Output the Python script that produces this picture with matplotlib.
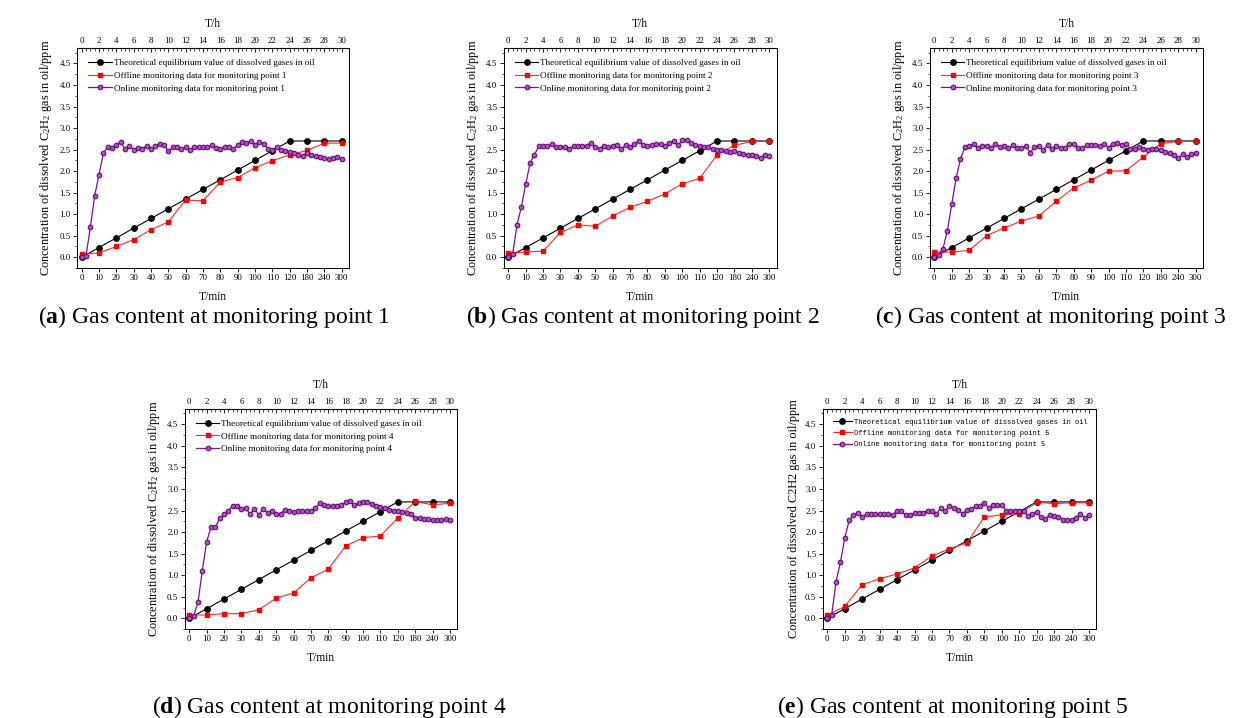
import numpy as np
import matplotlib.pyplot as plt

plt.rcParams['font.family'] = ['Liberation Serif', 'DejaVu Serif']
plt.rcParams['mathtext.fontset'] = 'custom'
plt.rcParams['mathtext.rm'] = 'Liberation Serif'
plt.rcParams['mathtext.it'] = 'Liberation Serif:italic'
plt.rcParams['mathtext.bf'] = 'Liberation Serif:bold'

# bottom axis (T/min) is evenly spaced, one label per top axis tick (T/h)
min_labels = [0, 10, 20, 30, 40, 50, 60, 70, 80, 90, 100, 110, 120, 180, 240, 300]
hour_ticks = [0, 2, 4, 6, 8, 10, 12, 14, 16, 18, 20, 22, 24, 26, 28, 30]

# theoretical equilibrium value (same for every monitoring point)
theory = [0.0, 0.225, 0.45, 0.675, 0.9, 1.125, 1.35, 1.575, 1.8, 2.025, 2.25,
          2.475, 2.7, 2.7, 2.7, 2.7]

# offline monitoring data, one value per bottom tick
offline_1 = [0.07, 0.10, 0.25, 0.41, 0.64, 0.82, 1.33, 1.31, 1.75, 1.85, 2.08, 2.24, 2.38, 2.48, 2.65, 2.65]
offline_2 = [0.09, 0.12, 0.14, 0.58, 0.75, 0.72, 0.96, 1.16, 1.30, 1.47, 1.71, 1.83, 2.38, 2.60, 2.69, 2.69]
offline_3 = [0.12, 0.12, 0.16, 0.50, 0.68, 0.84, 0.96, 1.30, 1.61, 1.79, 2.00, 2.01, 2.33, 2.64, 2.69, 2.69]
offline_4 = [0.08, 0.08, 0.11, 0.11, 0.20, 0.47, 0.59, 0.94, 1.14, 1.68, 1.87, 1.91, 2.33, 2.71, 2.63, 2.67]
offline_5 = [0.07, 0.28, 0.78, 0.92, 1.03, 1.17, 1.45, 1.61, 1.75, 2.35, 2.40, 2.42, 2.69, 2.66, 2.68, 2.68]

# online monitoring data, sampled every half hour
online_hours = np.arange(0, 30.5, 0.5)
online_1 = [0.00, 0.03, 0.70, 1.43, 1.92, 2.41, 2.57, 2.54, 2.61, 2.68,
            2.51, 2.59, 2.50, 2.54, 2.51, 2.59, 2.51, 2.59, 2.64, 2.60,
            2.47, 2.55, 2.57, 2.51, 2.55, 2.50, 2.55, 2.56, 2.57, 2.55,
            2.60, 2.54, 2.51, 2.55, 2.57, 2.51, 2.61, 2.68, 2.65, 2.69,
            2.61, 2.68, 2.64, 2.52, 2.48, 2.55, 2.50, 2.47, 2.44, 2.41,
            2.38, 2.36, 2.42, 2.38, 2.34, 2.33, 2.31, 2.28, 2.31, 2.32, 2.29]
online_2 = [0.00, 0.07, 0.75, 1.17, 1.69, 2.19, 2.38, 2.58, 2.58, 2.58,
            2.62, 2.56, 2.55, 2.55, 2.52, 2.58, 2.58, 2.58, 2.58, 2.66,
            2.55, 2.52, 2.58, 2.56, 2.58, 2.61, 2.52, 2.60, 2.56, 2.62,
            2.71, 2.60, 2.58, 2.60, 2.62, 2.64, 2.58, 2.66, 2.69, 2.60,
            2.72, 2.72, 2.66, 2.61, 2.58, 2.57, 2.55, 2.51, 2.49, 2.48,
            2.47, 2.45, 2.46, 2.43, 2.40, 2.38, 2.37, 2.35, 2.31, 2.38, 2.35]
online_3 = [0.01, 0.06, 0.20, 0.62, 1.23, 1.83, 2.28, 2.55, 2.58, 2.64,
            2.54, 2.59, 2.58, 2.54, 2.62, 2.56, 2.58, 2.53, 2.60, 2.54,
            2.53, 2.59, 2.43, 2.56, 2.59, 2.49, 2.60, 2.51, 2.58, 2.53,
            2.54, 2.64, 2.64, 2.53, 2.54, 2.60, 2.60, 2.60, 2.59, 2.64,
            2.54, 2.64, 2.66, 2.60, 2.62, 2.51, 2.51, 2.56, 2.51, 2.50,
            2.51, 2.51, 2.48, 2.45, 2.43, 2.37, 2.30, 2.39, 2.32, 2.39, 2.41]
online_4 = [0.00, 0.06, 0.37, 1.11, 1.78, 2.11, 2.11, 2.32, 2.42, 2.50,
            2.61, 2.61, 2.54, 2.55, 2.42, 2.54, 2.40, 2.54, 2.45, 2.50,
            2.42, 2.42, 2.52, 2.50, 2.46, 2.48, 2.50, 2.50, 2.50, 2.55,
            2.67, 2.63, 2.61, 2.61, 2.61, 2.63, 2.69, 2.72, 2.62, 2.67,
            2.70, 2.70, 2.66, 2.61, 2.58, 2.55, 2.52, 2.50, 2.48, 2.46,
            2.44, 2.42, 2.32, 2.33, 2.31, 2.30, 2.29, 2.29, 2.28, 2.30, 2.29]
online_5 = [0.02, 0.08, 0.85, 1.30, 1.86, 2.27, 2.39, 2.45, 2.35, 2.42,
            2.42, 2.42, 2.42, 2.42, 2.42, 2.40, 2.48, 2.48, 2.40, 2.40,
            2.44, 2.44, 2.44, 2.50, 2.48, 2.42, 2.55, 2.48, 2.61, 2.55,
            2.52, 2.42, 2.52, 2.53, 2.61, 2.61, 2.68, 2.55, 2.63, 2.63,
            2.63, 2.50, 2.50, 2.50, 2.50, 2.48, 2.38, 2.42, 2.46, 2.35,
            2.31, 2.40, 2.38, 2.36, 2.29, 2.29, 2.29, 2.33, 2.42, 2.33, 2.39]

offline_all = [offline_1, offline_2, offline_3, offline_4, offline_5]
online_all = [online_1, online_2, online_3, online_4, online_5]
letters = ['a', 'b', 'c', 'd', 'e']

# axes boxes in pixels: left, right, top, bottom (figure is 1245 x 718)
W, H = 1245, 718
boxes = [(77, 349, 48, 268), (503.6, 776.6, 48, 268), (929.6, 1203, 48, 268),
         (184.6, 457.3, 408.7, 629.2), (822.6, 1096.3, 408.7, 629.2)]
captions_xy = [(214, 317), (643, 317), (1051, 317), (329, 707), (953, 707)]

fig = plt.figure(figsize=(W / 100, H / 100), dpi=100)

for i in range(5):
    l, r, t, b = boxes[i]
    ax = fig.add_axes([l / W, 1 - b / H, (r - l) / W, (b - t) / H])

    ax.plot(hour_ticks, theory, color='black', lw=0.8, marker='o', ms=3.9,
            label='Theoretical equilibrium value of dissolved gases in oil')
    ax.plot(hour_ticks, offline_all[i], color='#ff2a2a', lw=0.8, marker='s', ms=3.5,
            mfc='red', mec='red',
            label='Offline monitoring data for monitoring point %d' % (i + 1))
    ax.plot(online_hours, online_all[i], color='#7d1090', lw=0.9, marker='o', ms=3.3,
            mfc='#a858b8', mec='#6a0a7c', mew=0.8,
            label='Online monitoring data for monitoring point %d' % (i + 1))

    ax.set_xlim(-0.54, 30.84)
    ax.set_ylim(-0.24, 4.86)

    # bottom axis in minutes
    ax.set_xticks(hour_ticks)
    ax.set_xticklabels([str(m) for m in min_labels])
    ax.set_yticks([0.0, 0.5, 1.0, 1.5, 2.0, 2.5, 3.0, 3.5, 4.0, 4.5])
    ax.set_yticks(np.arange(-0.25, 4.8, 0.25), minor=True)
    ax.set_yticklabels(['%.1f' % v for v in ax.get_yticks()])
    ax.tick_params(axis='both', which='major', labelsize=6.4, length=3, width=0.6,
                   direction='out', pad=1.5)
    ax.tick_params(axis='y', which='minor', length=1.8, width=0.5, direction='out')
    ax.set_xlabel('T/min', fontsize=8.3, labelpad=6)

    # top axis in hours
    top = ax.secondary_xaxis('top')
    top.set_xticks(hour_ticks)
    top.set_xticklabels([str(h) for h in hour_ticks])
    top.set_xticks(np.arange(0, 30.5, 0.5), minor=True)
    top.tick_params(which='major', direction='in', length=3, width=0.6,
                    labelsize=6.4, pad=2)
    top.tick_params(which='minor', direction='in', length=1.8, width=0.5)
    top.set_xlabel('T/h', fontsize=8.3, labelpad=7)

    for sp in ax.spines.values():
        sp.set_linewidth(0.7)

    if i < 4:
        ax.set_ylabel('Concentration of dissolved C$_2$H$_2$ gas in oil/ppm', fontsize=8.8,
                      labelpad=4)
        ax.legend(loc='upper left', frameon=False, fontsize=6.6, handlelength=2.6,
                  handletextpad=0.2, labelspacing=0.45, borderaxespad=0.8)
    else:
        ax.set_ylabel('Concentration of dissolved C2H2 gas in oil/ppm', fontsize=8.8,
                      labelpad=4)
        ax.legend(loc='upper left', frameon=False, prop={'family': 'Liberation Mono', 'size': 5.1},
                  handlelength=2.8, handletextpad=0.2, labelspacing=0.6, borderaxespad=1.0)

    cx, cy = captions_xy[i]
    fig.text(cx / W, 1 - cy / H, r'($\mathbf{%s}$) Gas content at monitoring point %d' % (letters[i], i + 1),
             fontsize=17, ha='center', va='center')

fig.savefig('out.png', dpi=100)
